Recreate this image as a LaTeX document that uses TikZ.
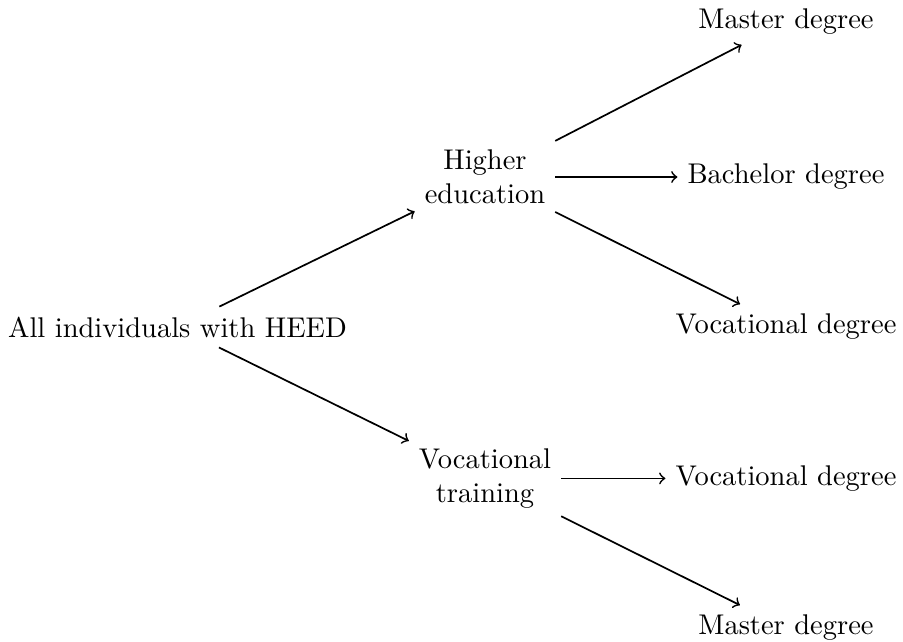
\documentclass[tikz,border=0pt]{standalone}
\begin{document}
\begin{tikzpicture}
      \useasboundingbox (0,0) rectangle (11.136,-7.917);
      \draw
        (2.189,-4.033) node (all){All individuals with HEED}
        (5.981,-2.183) node[align=center] (he){Higher\\education}
        (5.981,-5.900) node[align=center] (vt){Vocational\\training}
        (9.693,-0.271) node (he1){Master degree}
        (9.693,-2.183) node (he2){Bachelor degree}
        (9.693,-4.033) node (he3){Vocational degree}
        (9.693,-5.900) node (vt1){Vocational degree}
        (9.693,-7.745) node (vt2){Master degree};
      \begin{scope}[->,semithick]
        \draw (all) to (he);
        \draw (all) to (vt);
        \draw (he) to (he1);
        \draw (he) to (he2);
        \draw (he) to (he3);
        \draw (vt) to (vt1);
        \draw (vt) to (vt2);
      \end{scope}
    \end{tikzpicture}
\end{document}
